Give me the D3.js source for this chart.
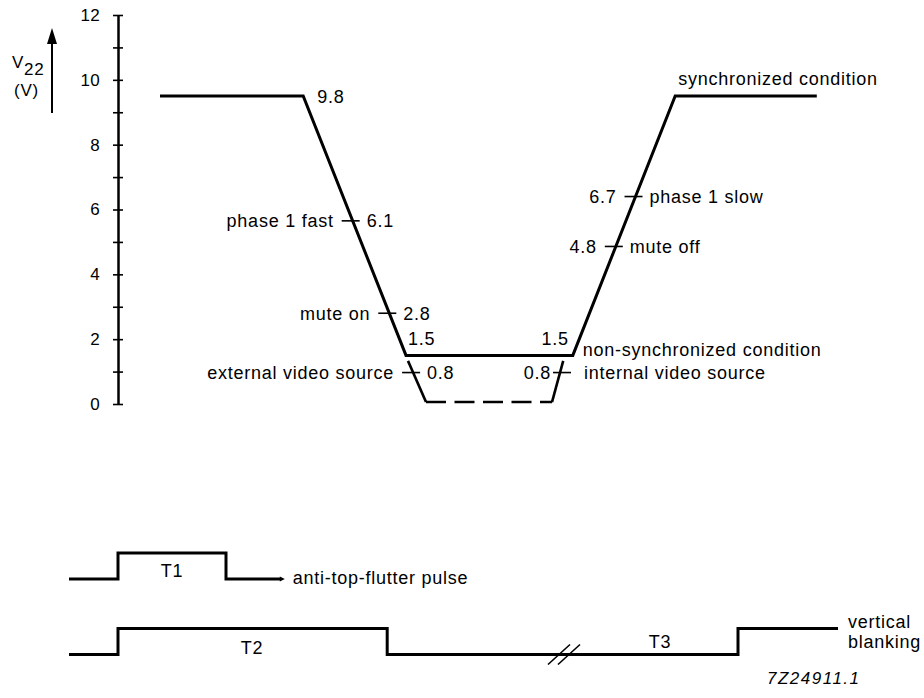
<!DOCTYPE html>
<meta charset="utf-8">
<script src="https://d3js.org/d3.v7.min.js"></script>
<div id="chart"></div>
<style>
body { margin: 0; background: #fff; }
text { font-family: "Liberation Sans", Arial, sans-serif; font-size: 18px; fill: #000; letter-spacing: 0.75px; }
.axis path, .axis line { stroke: #000; stroke-width: 2.5px; }
.axis text { font-size: 17px; letter-spacing: 0.3px; }
.curve { fill: none; stroke: #000; stroke-width: 3px; stroke-linejoin: miter; }
.thin { fill: none; stroke: #000; stroke-width: 1.6px; }
</style>
<script>
// V22 levels along the curve (drawn positions), time in arbitrary units
var curveTime  = [12.5, 30.4, 43.25, 64.1, 76.9, 94.6];
var curveLevel = [9.5, 9.5, 1.5, 1.5, 9.5, 9.5];

// dashed branch down to 0 V
var dashTime  = [43.5, 45.75, 61.5, 62.9];
var dashLevel = [1.33, 0.06, 0.06, 1.33];

// marks on the slopes
var markLevel = [5.65, 2.8, 0.97, 0.97, 4.86, 6.4];
var markValue = ["6.1", "2.8", "0.8", "0.8", "4.8", "6.7"];
var markName  = ["phase 1 fast", "mute on", "external video source", "internal video source", "mute off", "phase 1 slow"];
var markSlope = ["fall", "fall", "fallDash", "riseDash", "rise", "rise"];

// level labels at corners
var cornerLabel = ["9.8", "1.5", "1.5"];

// pulse trains (0 = low, 1 = high)
var t1Time  = [1.125, 7.25, 7.25, 20.75, 20.75, 27.6];
var t1Level = [0, 0, 1, 1, 0, 0];
var t2Time  = [1.125, 7.25, 7.25, 40.9, 40.9, 84.75, 84.75, 97.25];
var t2Level = [0, 0, 1, 1, 0, 0, 1, 1];
var breakTime = 63;
var pulseNames = ["T1", "T2", "T3"];
var pulseNameTime = [14, 24, 75];

var yTicks = d3.range(0, 13);

var width = 924, height = 698;
var svg = d3.select("#chart").append("svg")
  .attr("width", width).attr("height", height);

var x = d3.scaleLinear().domain([0, 100]).range([60, 860]);
var y = d3.scaleLinear().domain([0, 12]).range([404, 15]);

// y axis with ticks crossing the line
var axis = svg.append("g").attr("class", "axis")
  .attr("transform", "translate(118,0)")
  .call(d3.axisLeft(y).tickValues(yTicks).tickSizeInner(5).tickSizeOuter(0).tickPadding(13)
    .tickFormat(function(d) { return d % 2 ? "" : d; }));
axis.selectAll(".tick line").attr("x1", -5).attr("x2", 5).style("stroke-width", "1.6px");
axis.selectAll("text").style("font-family", "Liberation Sans, Arial, sans-serif");

// V22 label and arrow
var lab = svg.append("text").attr("x", 12).attr("y", 68).style("font-size", "17px");
lab.append("tspan").text("V");
lab.append("tspan").attr("dy", 7).text("22");
svg.append("text").attr("x", 14).attr("y", 96).style("font-size", "17px").text("(V)");
svg.append("line").attr("x1", 52).attr("x2", 52).attr("y1", 113).attr("y2", 40)
  .attr("stroke", "#000").attr("stroke-width", 2);
svg.append("path").attr("d", "M52,28 L47,44 L57,44 Z").attr("fill", "#000");

// main curve
var line = d3.line().x(function(d) { return x(d[0]); }).y(function(d) { return y(d[1]); });
svg.append("path").attr("class", "curve")
  .attr("d", line(d3.zip(curveTime, curveLevel)));

// dashed branch
var dash = d3.zip(dashTime, dashLevel);
svg.append("path").attr("class", "curve").style("stroke-width", "2.6px")
  .attr("d", line([dash[0], dash[1]]));
svg.append("path").attr("class", "curve").style("stroke-width", "2.6px")
  .attr("d", line([dash[1], dash[2]])).attr("stroke-dasharray", "20,8.5");
svg.append("path").attr("class", "curve").style("stroke-width", "2.6px")
  .attr("d", line([dash[2], dash[3]]));

// find the time on a segment for a given level
function onSeg(t0, v0, t1, v1, v) { return t0 + (v - v0) / (v1 - v0) * (t1 - t0); }
var segs = {
  fall: [curveTime[1], curveLevel[1], curveTime[2], curveLevel[2]],
  rise: [curveTime[3], curveLevel[3], curveTime[4], curveLevel[4]],
  fallDash: [dashTime[0], dashLevel[0], dashTime[1], dashLevel[1]],
  riseDash: [dashTime[2], dashLevel[2], dashTime[3], dashLevel[3]]
};

markLevel.forEach(function(v, i) {
  var s = segs[markSlope[i]];
  var falling = markSlope[i].indexOf("fall") == 0;
  var rd = markSlope[i] == "riseDash";
  var cx = x(onSeg(s[0], s[1], s[2], s[3], v)) + (rd ? 2 : -2);
  var cy = y(v);
  svg.append("line").attr("class", "thin")
    .attr("x1", cx - 9).attr("x2", cx + 9).attr("y1", cy).attr("y2", cy);
  var left = falling ? markName[i] : markValue[i];
  var right = falling ? markValue[i] : markName[i];
  svg.append("text").attr("x", cx - (rd ? 11 : 17)).attr("y", cy).attr("dy", "0.36em")
    .attr("text-anchor", "end").text(left);
  svg.append("text").attr("x", cx + (rd ? 22 : 16)).attr("y", cy).attr("dy", "0.36em").text(right);
});

// corner labels
svg.append("text").attr("x", x(curveTime[1]) + 14).attr("y", y(curveLevel[1])).attr("dy", "0.36em").text(cornerLabel[0]);
svg.append("text").attr("x", x(curveTime[2]) + 2).attr("y", y(curveLevel[2]) - 17).attr("dy", "0.36em").text(cornerLabel[1]);
svg.append("text").attr("x", x(curveTime[3]) - 4).attr("y", y(curveLevel[3]) - 17).attr("dy", "0.36em")
  .attr("text-anchor", "end").text(cornerLabel[2]);

svg.append("text").attr("x", x(curveTime[4]) + 3).attr("y", y(curveLevel[4]) - 18).attr("dy", "0.36em").text("synchronized condition");
svg.append("text").attr("x", x(curveTime[3]) + 10).attr("y", y(curveLevel[3]) - 6).attr("dy", "0.36em").text("non-synchronized condition");

// pulse trains
var p = d3.scaleLinear().domain([0, 1]).range([26, 0]);
var pline = d3.line().x(function(d) { return x(d[0]); }).y(function(d) { return p(d[1]); });

var r1 = svg.append("g").attr("transform", "translate(0,553)");
r1.append("path").attr("class", "curve").attr("d", pline(d3.zip(t1Time, t1Level)));
r1.append("path").attr("d", "M" + (x(27.6) + 4) + "," + p(0) + " l-5,-2.5 v5 Z").attr("fill", "#000");
r1.append("text").attr("x", x(pulseNameTime[0])).attr("y", 18).attr("dy", "0.36em")
  .attr("text-anchor", "middle").text(pulseNames[0]);
r1.append("text").attr("x", x(27.6) + 12).attr("y", p(0) - 1).attr("dy", "0.36em").text("anti-top-flutter pulse");

var r2 = svg.append("g").attr("transform", "translate(0,628.5)");
r2.append("path").attr("class", "curve").attr("d", pline(d3.zip(t2Time, t2Level)));
r2.append("text").attr("x", x(pulseNameTime[1])).attr("y", 19).attr("dy", "0.36em")
  .attr("text-anchor", "middle").text(pulseNames[1]);
r2.append("text").attr("x", x(pulseNameTime[2])).attr("y", 13).attr("dy", "0.36em")
  .attr("text-anchor", "middle").text(pulseNames[2]);
[-5, 5].forEach(function(o) {
  r2.append("line").attr("class", "thin")
    .attr("x1", x(breakTime) + o - 11).attr("y1", p(0) + 10)
    .attr("x2", x(breakTime) + o + 11).attr("y2", p(0) - 10);
});
r2.append("text").attr("x", 848).attr("y", -7).attr("dy", "0.36em").text("vertical");
r2.append("text").attr("x", 848).attr("y", 13).attr("dy", "0.36em").text("blanking");

svg.append("text").attr("x", 767).attr("y", 678).attr("dy", "0.36em")
  .style("font-style", "italic").style("font-size", "17px").style("letter-spacing", "1.5px").text("7Z24911.1");
</script>
